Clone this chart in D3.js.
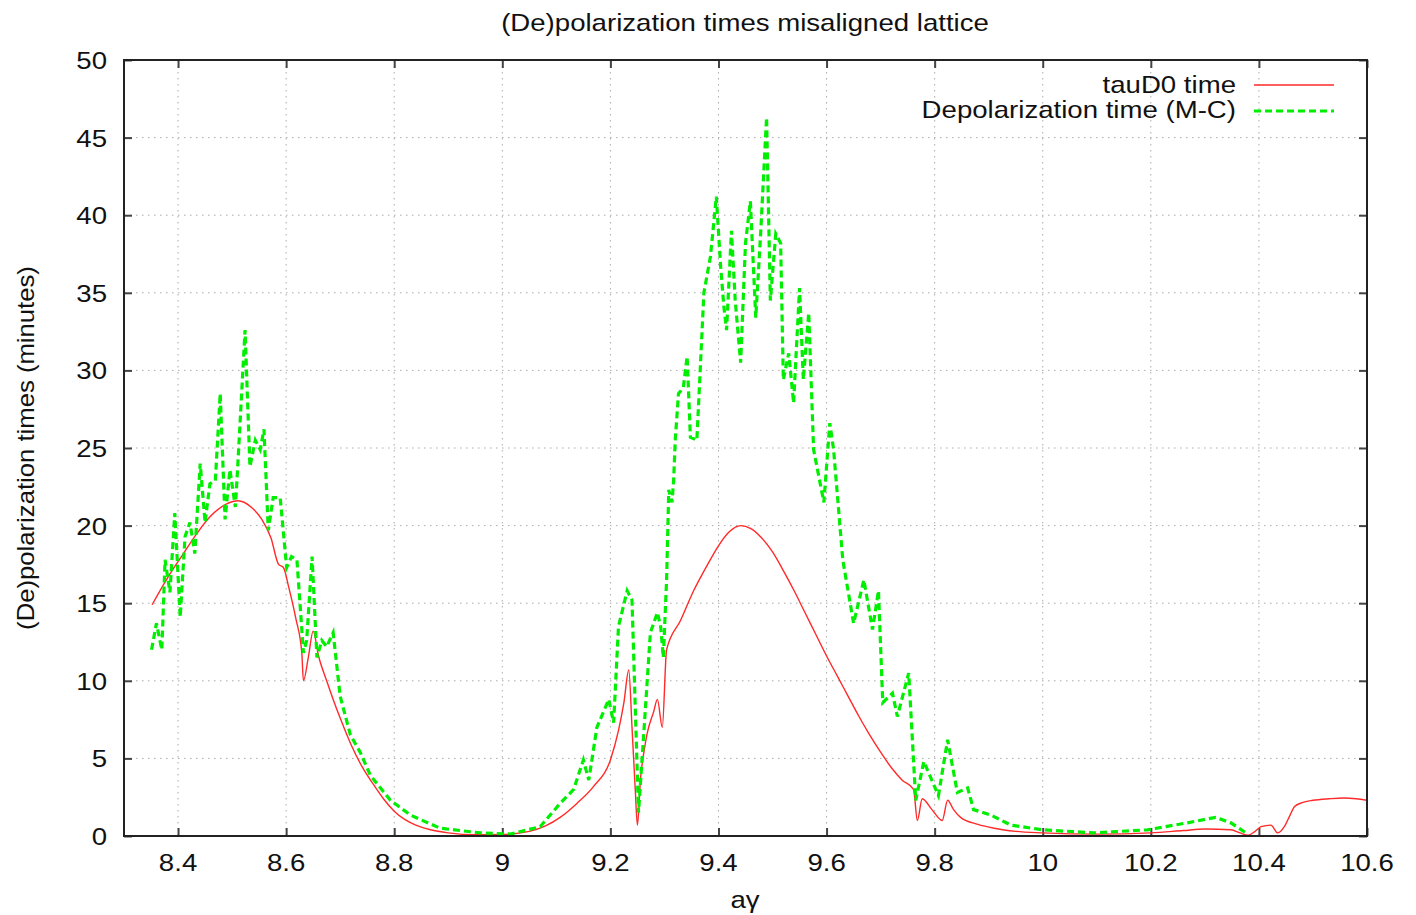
<!DOCTYPE html>
<html>
<head>
<meta charset="utf-8">
<script src="https://cdn.jsdelivr.net/npm/d3@7"></script>
<style>
  body { margin: 0; background: #fff; }
  text { font-family: "Liberation Sans", Arial, sans-serif; fill: #111; }
</style>
</head>
<body>
<div id="chart"></div>
<script>
// (De)polarization times, misaligned lattice -- gnuplot-style chart

const xTicks = [8.4, 8.6, 8.8, 9, 9.2, 9.4, 9.6, 9.8, 10, 10.2, 10.4, 10.6];
const yTicks = [0, 5, 10, 15, 20, 25, 30, 35, 40, 45, 50];
const seriesNames = ["tauD0 time", "Depolarization time (M-C)"];

// tauD0 time  [a*gamma, minutes]
const tauD0 = [
  [8.352,14.9],[8.38,16.6],[8.41,18.2],[8.435,19.5],[8.46,20.6],[8.49,21.4],[8.511,21.6],
  [8.535,21.2],[8.555,20.4],[8.572,19.2],[8.586,17.5],[8.595,17.3],[8.605,16.0],[8.618,14.0],
  [8.629,11.8],[8.632,10.0],[8.641,11.5],[8.650,13.2],[8.66,11.6],[8.675,10.0],[8.687,8.8],
  [8.70,7.6],[8.72,5.9],[8.74,4.5],[8.76,3.4],[8.78,2.4],[8.80,1.6],[8.82,1.05],[8.84,0.7],
  [8.867,0.4],[8.9,0.2],[8.95,0.08],[9.0,0.1],[9.05,0.3],[9.08,0.65],[9.107,1.2],[9.138,2.1],
  [9.169,3.2],[9.2,4.9],[9.215,6.8],[9.225,8.6],[9.234,10.7],[9.24,7.0],[9.246,3.0],[9.25,0.7],
  [9.256,3.8],[9.262,5.4],[9.268,6.6],[9.28,8.0],[9.287,8.8],[9.296,7.0],[9.304,12.0],
  [9.33,13.9],[9.354,15.8],[9.38,17.5],[9.40,18.7],[9.42,19.6],[9.441,20.0],[9.46,19.8],
  [9.48,19.2],[9.50,18.3],[9.52,17.1],[9.54,15.8],[9.56,14.4],[9.58,13.0],[9.60,11.6],
  [9.62,10.3],[9.64,9.0],[9.66,7.7],[9.68,6.5],[9.70,5.4],[9.72,4.4],[9.74,3.6],[9.761,3.0],
  [9.768,1.0],[9.777,2.4],[9.795,1.7],[9.814,1.0],[9.824,2.3],[9.835,1.7],[9.848,1.2],
  [9.88,0.75],[9.91,0.5],[9.95,0.3],[10.0,0.2],[10.1,0.12],[10.2,0.2],[10.26,0.35],
  [10.30,0.45],[10.348,0.4],[10.365,0.2],[10.38,0.05],[10.393,0.3],[10.404,0.6],[10.422,0.7],
  [10.435,0.2],[10.447,0.6],[10.457,1.3],[10.466,1.9],[10.48,2.15],[10.50,2.3],[10.53,2.4],
  [10.557,2.45],[10.58,2.4],[10.6,2.3]
];

// Depolarization time (Monte-Carlo)
const depolMC = [
  [8.351,12.0],[8.36,13.7],[8.370,12.0],[8.376,17.8],[8.385,15.7],[8.394,20.8],[8.404,14.1],
  [8.413,19.3],[8.422,20.2],[8.431,18.2],[8.441,24.0],[8.450,20.2],[8.459,22.7],[8.469,22.9],
  [8.478,28.5],[8.487,20.4],[8.496,23.6],[8.506,21.2],[8.509,22.9],[8.524,32.6],[8.533,23.8],
  [8.543,25.5],[8.552,24.9],[8.559,26.2],[8.567,19.7],[8.576,21.8],[8.589,21.8],[8.601,17.3],
  [8.610,18.0],[8.620,17.8],[8.632,11.8],[8.638,12.6],[8.648,18.0],[8.657,11.5],[8.666,12.6],
  [8.675,12.2],[8.687,13.1],[8.70,9.0],[8.719,6.5],[8.737,5.4],[8.756,3.9],[8.793,2.3],
  [8.83,1.35],[8.885,0.5],[8.96,0.2],[9.015,0.13],[9.07,0.6],[9.107,2.1],[9.132,3.0],
  [9.15,4.9],[9.16,3.6],[9.175,7.0],[9.197,8.8],[9.206,7.3],[9.215,13.5],[9.231,15.8],
  [9.24,15.2],[9.246,8.3],[9.252,1.5],[9.261,6.2],[9.274,13.1],[9.287,14.4],[9.293,13.5],
  [9.298,11.5],[9.304,16.5],[9.308,22.3],[9.314,21.5],[9.317,22.9],[9.32,25.5],[9.326,28.5],
  [9.335,28.9],[9.342,30.9],[9.348,25.7],[9.360,25.5],[9.373,35.0],[9.385,37.3],[9.396,41.2],
  [9.404,36.7],[9.410,34.1],[9.415,32.6],[9.424,39.0],[9.431,34.5],[9.441,30.5],[9.45,38.2],
  [9.459,40.9],[9.469,33.4],[9.478,38.8],[9.489,46.3],[9.496,34.5],[9.506,38.8],[9.515,38.2],
  [9.520,29.4],[9.53,31.1],[9.539,27.9],[9.55,35.3],[9.557,29.4],[9.567,33.7],[9.576,24.9],
  [9.595,21.5],[9.606,26.6],[9.613,24.9],[9.63,17.8],[9.65,13.7],[9.669,16.5],[9.685,13.3],
  [9.696,15.8],[9.704,8.6],[9.722,9.2],[9.731,7.7],[9.752,10.5],[9.765,2.3],[9.780,4.8],
  [9.807,2.6],[9.824,6.2],[9.842,2.8],[9.861,3.1],[9.872,1.7],[9.904,1.35],[9.941,0.7],
  [10.0,0.4],[10.094,0.2],[10.194,0.4],[10.268,0.85],[10.32,1.2],[10.348,0.85],[10.376,0.2]
];

var width = 1416;
var height = 915;
// plot box (px)
var pL = 124, pR = 1367, pT = 60, pB = 836;
var sx = 1.15; // glyphs in the picture are wider than tall

var svg = d3.select("#chart").append("svg")
    .attr("width", width)
    .attr("height", height);

var x = d3.scaleLinear().domain([8.3, 10.6]).range([pL, pR]);
var y = d3.scaleLinear().domain([0, 50]).range([pB, pT]);

function label(g, px, py, txt, anchor, extra) {
  return g.append("text")
    .attr("transform", "translate(" + px + "," + py + ")" + (extra || "") + " scale(" + sx + ",1)")
    .attr("text-anchor", anchor)
    .attr("font-size", "24px")
    .text(txt);
}

// grid
var grid = svg.append("g")
    .attr("stroke", "#aaa")
    .attr("stroke-width", 1)
    .attr("stroke-dasharray", "1.5,4.5");

grid.selectAll(".gx")
  .data(xTicks.slice(0, -1)).enter()
  .append("line")
    .attr("x1", d => x(d)).attr("x2", d => x(d))
    .attr("y1", pT).attr("y2", pB);

grid.selectAll(".gy")
  .data(yTicks.slice(1, -1)).enter()
  .append("line")
    .attr("x1", pL).attr("x2", pR)
    .attr("y1", d => y(d)).attr("y2", d => y(d));

// axes with inward ticks, mirrored on top and right
var tick = 8;
var axisB = svg.append("g")
    .attr("transform", "translate(0," + pB + ")")
    .call(d3.axisBottom(x).tickValues(xTicks).tickSize(-tick).tickFormat(""));
var axisT = svg.append("g")
    .attr("transform", "translate(0," + pT + ")")
    .call(d3.axisTop(x).tickValues(xTicks).tickSize(-tick).tickFormat(""));
var axisL = svg.append("g")
    .attr("transform", "translate(" + pL + ",0)")
    .call(d3.axisLeft(y).tickValues(yTicks).tickSize(-tick).tickFormat(""));
var axisR = svg.append("g")
    .attr("transform", "translate(" + pR + ",0)")
    .call(d3.axisRight(y).tickValues(yTicks).tickSize(-tick).tickFormat(""));

[axisB, axisT, axisL, axisR].forEach(function(a) {
  a.select(".domain").remove();
  a.selectAll(".tick line").attr("stroke", "#444").attr("stroke-width", 2);
});

// tick labels
var labels = svg.append("g");
xTicks.forEach(function(d) { label(labels, x(d), pB + 35, d3.format("")(d), "middle"); });
yTicks.forEach(function(d) { label(labels, pL - 17, y(d) + 9, d, "end"); });

// series
svg.append("path")
    .datum(tauD0)
    .attr("fill", "none")
    .attr("stroke", "#ff2a2a")
    .attr("stroke-width", 1.4)
    .attr("d", d3.line().x(d => x(d[0])).y(d => y(d[1])).curve(d3.curveMonotoneX));

svg.append("path")
    .datum(depolMC)
    .attr("fill", "none")
    .attr("stroke", "#00ee00")
    .attr("stroke-width", 3.2)
    .attr("stroke-dasharray", "7,4")
    .attr("d", d3.line().x(d => x(d[0])).y(d => y(d[1])));

// frame
svg.append("rect")
    .attr("x", pL).attr("y", pT)
    .attr("width", pR - pL).attr("height", pB - pT)
    .attr("fill", "none")
    .attr("stroke", "#222")
    .attr("stroke-width", 2);

// legend
var legend = svg.append("g");
label(legend, 1236, 93, seriesNames[0], "end");
label(legend, 1236, 118, seriesNames[1], "end");
legend.append("line")
    .attr("x1", 1254).attr("x2", 1334).attr("y1", 85).attr("y2", 85)
    .attr("stroke", "#ff2a2a").attr("stroke-width", 1.6);
legend.append("line")
    .attr("x1", 1254).attr("x2", 1334).attr("y1", 111).attr("y2", 111)
    .attr("stroke", "#00ee00").attr("stroke-width", 3.2)
    .attr("stroke-dasharray", "7,4");

// title and axis titles
label(svg, 745, 31, "(De)polarization times misaligned lattice", "middle");
label(svg, 745, 908, "aγ", "middle");
svg.append("text")
    .attr("transform", "translate(34,448) rotate(-90) scale(1.07,1)")
    .attr("text-anchor", "middle")
    .attr("font-size", "24px")
    .text("(De)polarization times (minutes)");
</script>
</body>
</html>
